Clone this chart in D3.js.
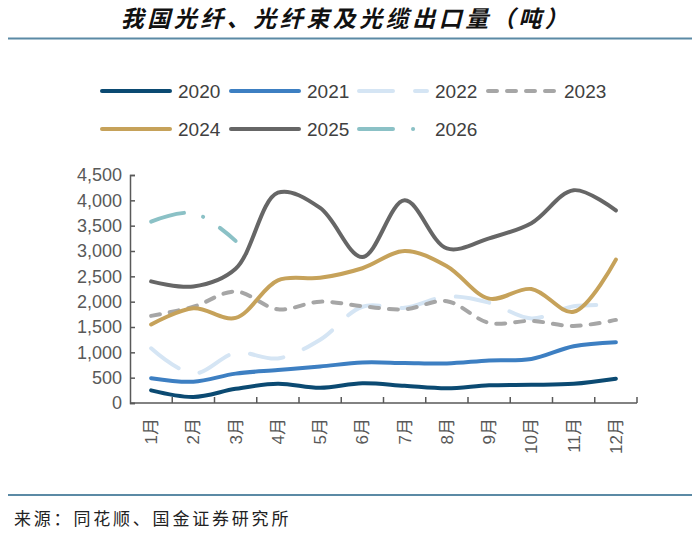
<!DOCTYPE html>
<html><head><meta charset="utf-8">
<script src="https://cdn.jsdelivr.net/npm/d3@7"></script>
<style>
html,body{margin:0;padding:0;background:#fff;}
svg{display:block;}
</style></head>
<body>
<script>
// ---- data ----
const months = ["1月","2月","3月","4月","5月","6月","7月","8月","9月","10月","11月","12月"];
const years = ["2020","2021","2022","2023","2024","2025","2026"];
const s2020 = [250,120,280,380,300,390,340,290,350,360,380,480];
const s2021 = [490,420,580,650,720,800,790,780,840,870,1120,1200];
const s2022 = [1080,580,990,880,1250,1900,1880,2100,1980,1670,1910,1930];
const s2023 = [1720,1900,2200,1850,2000,1910,1850,2010,1580,1620,1520,1640];
const s2024 = [1550,1870,1680,2420,2470,2660,3000,2700,2060,2250,1800,2830];
const s2025 = [2400,2300,2650,4150,3850,2880,4000,3050,3250,3550,4200,3800];
const s2026 = [3580,3750,3200];
const yTicks = [0,500,1000,1500,2000,2500,3000,3500,4000,4500];
const titleText = "我国光纤、光纤束及光缆出口量（吨）";
const sourceText = "来源：同花顺、国金证券研究所";

const seriesValues = [s2020,s2021,s2022,s2023,s2024,s2025,s2026];
const styles = {
  "2020":{color:"#0b4a72",dash:null},
  "2021":{color:"#3d7fc2",dash:null},
  "2022":{color:"#d5e5f4",dash:"34 22"},
  "2023":{color:"#a6a6a6",dash:"9 10"},
  "2024":{color:"#c6a25a",dash:null},
  "2025":{color:"#666666",dash:null},
  "2026":{color:"#8bc1c6",dash:"34 20 0.1 20"}
};

const W=692,H=534;
const svg=d3.select("body").append("svg").attr("width",W).attr("height",H);

// title
svg.append("text").attr("x",346).attr("y",27).attr("text-anchor","middle")
  .attr("font-family","'Noto Sans CJK SC',sans-serif").attr("font-size",23)
  .attr("font-weight","bold").attr("font-style","italic").attr("letter-spacing",3.5)
  .attr("fill","#111").text(titleText);
svg.append("line").attr("x1",8).attr("x2",692).attr("y1",38.5).attr("y2",38.5)
  .attr("stroke","#5b8aa5").attr("stroke-width",2);

// scales
const x=d3.scaleBand().domain(months).range([130,637]).padding(0);
const y=d3.scaleLinear().domain([0,4500]).range([403,175]);
const cx=m=>x(m)+x.bandwidth()/2;

// y axis
const yAxis=svg.append("g").attr("transform","translate(130,0)")
  .call(d3.axisLeft(y).tickValues(yTicks).tickSize(-5).tickPadding(8).tickFormat(d3.format(",")));
yAxis.select(".domain").attr("stroke","#595959").attr("stroke-width",1.5);
yAxis.selectAll(".tick line").attr("stroke","#595959").attr("stroke-width",1.5);
yAxis.selectAll(".tick text").attr("font-family","'Liberation Sans',Arial,sans-serif")
  .attr("font-size",18).attr("fill","#595959");

// x axis
const gx=svg.append("g");
gx.append("line").attr("x1",130).attr("x2",637).attr("y1",403).attr("y2",403)
  .attr("stroke","#595959").attr("stroke-width",1.5);
const bounds=months.map(m=>x(m)).concat([x(months[months.length-1])+x.bandwidth()]);
gx.selectAll("line.tk").data(bounds.slice(1)).enter().append("line").attr("class","tk")
  .attr("x1",d=>d).attr("x2",d=>d).attr("y1",403).attr("y2",397)
  .attr("stroke","#595959").attr("stroke-width",1.5);
gx.selectAll("text").data(months).enter().append("text")
  .attr("transform",d=>`translate(${cx(d)+6},418) rotate(-90)`)
  .attr("text-anchor","end")
  .attr("font-family","'Liberation Sans','Noto Sans CJK SC',sans-serif").attr("font-size",17)
  .attr("fill","#595959").text(d=>d);

// lines
const line=d3.line().x((d,i)=>cx(months[i])).y(d=>y(d)).curve(d3.curveCatmullRom.alpha(0.5));
years.forEach((yr,k)=>{
  const st=styles[yr];
  svg.append("path").datum(seriesValues[k]).attr("d",line)
    .attr("fill","none").attr("stroke",st.color).attr("stroke-width",4)
    .attr("stroke-linecap","round").attr("stroke-linejoin","round")
    .attr("stroke-dasharray",st.dash);
});

// legend
const legX=[102,231,359,488];
const legY=[91,129];
years.forEach((yr,k)=>{
  const st=styles[yr];
  const lx=legX[k%4], ly=legY[Math.floor(k/4)];
  svg.append("line").attr("x1",lx).attr("x2",lx+68).attr("y1",ly).attr("y2",ly)
    .attr("stroke",st.color).attr("stroke-width",4).attr("stroke-linecap","round")
    .attr("stroke-dasharray",st.dash);
  svg.append("text").attr("x",lx+76).attr("y",ly+7)
    .attr("font-family","'Liberation Sans',Arial,sans-serif").attr("font-size",19)
    .attr("fill","#404040").text(yr);
});

// source
svg.append("line").attr("x1",8).attr("x2",692).attr("y1",495).attr("y2",495)
  .attr("stroke","#5b8aa5").attr("stroke-width",2);
svg.append("text").attr("x",14).attr("y",525)
  .attr("font-family","'Noto Sans CJK SC',sans-serif").attr("font-size",17)
  .attr("letter-spacing",2.8).attr("fill","#222").text(sourceText);
</script>
</body></html>
